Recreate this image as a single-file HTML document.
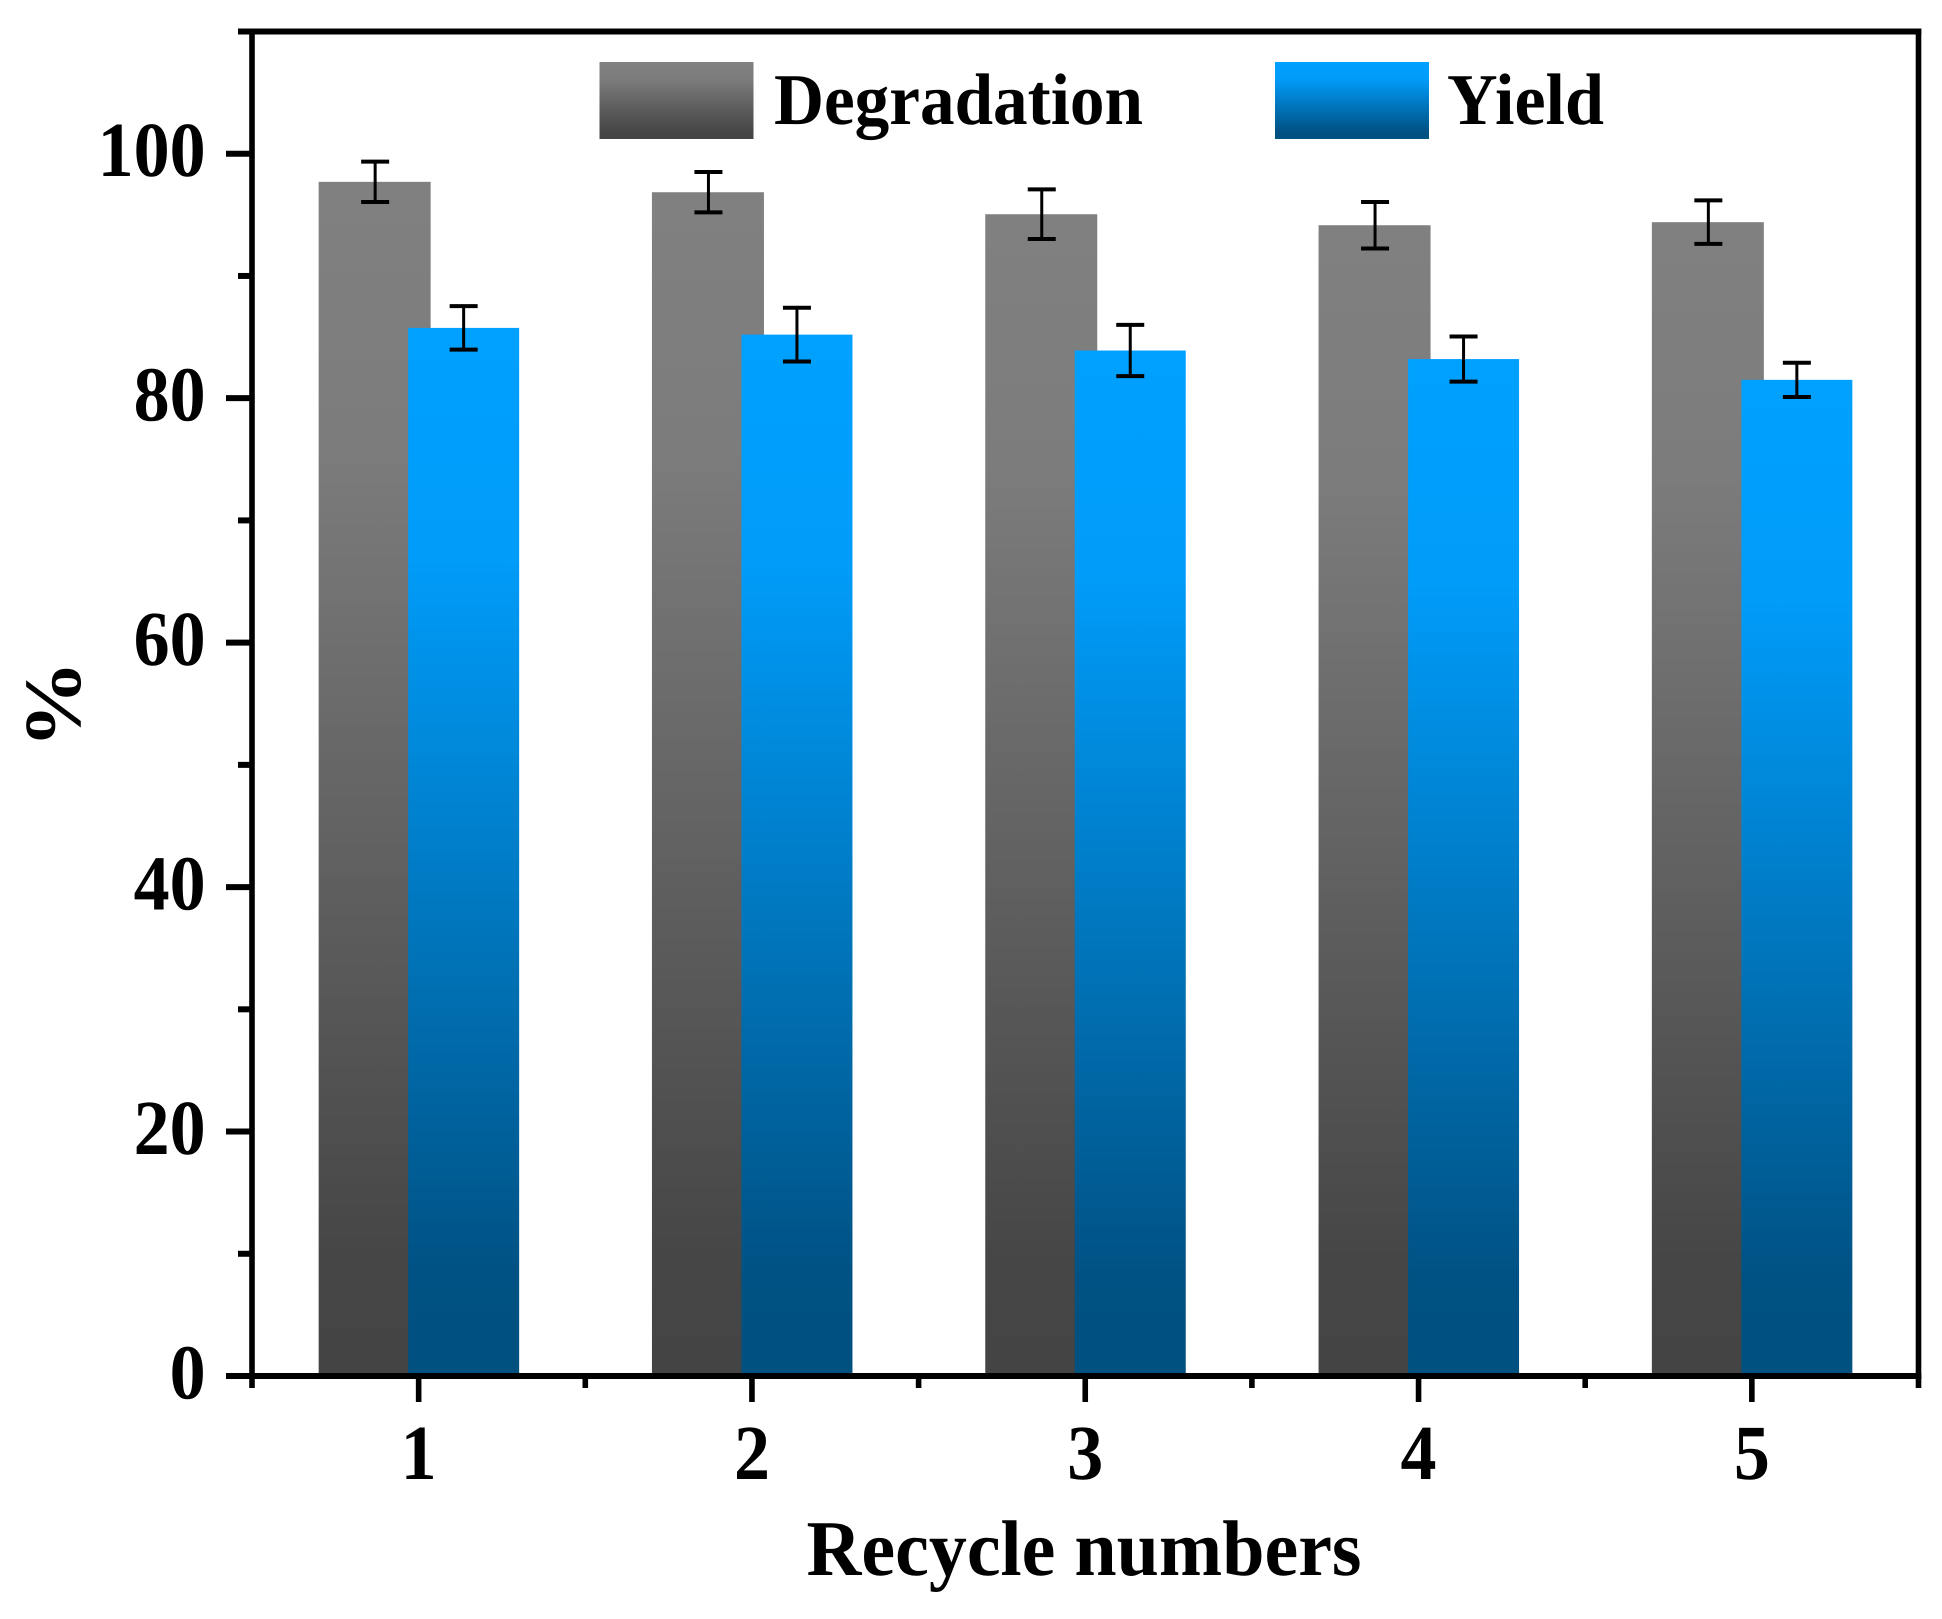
<!DOCTYPE html>
<html lang="en">
<head>
<meta charset="utf-8">
<title>Degradation and yield by recycle number</title>
<style>
html,body{margin:0;padding:0;background:#fff;}
svg{display:block;}
text{font-family:"Liberation Serif",serif;font-weight:bold;fill:#000;text-rendering:geometricPrecision;}
</style>
</head>
<body>
<svg id="chart" xmlns="http://www.w3.org/2000/svg" width="1942" height="1619" viewBox="0 0 1942 1619">
  <defs>
    <linearGradient id="grad-gray" x1="0" y1="0" x2="0" y2="1">
      <stop offset="0" stop-color="#808080"/>
      <stop offset="0.22" stop-color="#7c7c7c"/>
      <stop offset="0.90" stop-color="#464646"/>
      <stop offset="1" stop-color="#444444"/>
    </linearGradient>
    <linearGradient id="grad-blue" x1="0" y1="0" x2="0" y2="1">
      <stop offset="0" stop-color="#00a0ff"/>
      <stop offset="0.22" stop-color="#009cf9"/>
      <stop offset="0.90" stop-color="#005284"/>
      <stop offset="1" stop-color="#005080"/>
    </linearGradient>
  </defs>
  <rect x="0" y="0" width="1942" height="1619" fill="#ffffff"/>
  <g id="bars"></g>
  <g id="errors"></g>
  <g id="axes"></g>
  <g id="labels"></g>

  <g>
    <g>
      <rect x="599.5" y="62" width="154" height="77" fill="url(#grad-gray)"/>
      <text x="774" y="124" font-size="73" textLength="369" lengthAdjust="spacingAndGlyphs">Degradation</text>
    </g>
    <g>
      <rect x="1275" y="62" width="154" height="77" fill="url(#grad-blue)"/>
      <text x="1447" y="124" font-size="73" textLength="157" lengthAdjust="spacingAndGlyphs">Yield</text>
    </g>
  </g>

  <text x="806.5" y="1575" font-size="79" textLength="555" lengthAdjust="spacingAndGlyphs">Recycle numbers</text>
  <text transform="translate(80 704.5) rotate(-90)" text-anchor="middle" font-size="81" textLength="88" lengthAdjust="spacingAndGlyphs">%</text>
</svg>

<script>
const categories = [1, 2, 3, 4, 5];
const degradation = [97.7, 96.85, 95.05, 94.15, 94.4];
const degradationErr = [1.65, 1.65, 2.03, 1.9, 1.78];
const yieldValues = [85.75, 85.2, 83.9, 83.2, 81.5];
const yieldErr = [1.78, 2.2, 2.1, 1.85, 1.4];
const yMajorTicks = [0, 20, 40, 60, 80, 100];
const yMinorTicks = [10, 30, 50, 70, 90, 110];
const xMinorTicks = [0.5, 1.5, 2.5, 3.5, 4.5, 5.5];

const NS = 'http://www.w3.org/2000/svg';
const X_LEFT = 252, X_RIGHT = 1918.5, X_MIN = 0.5, X_MAX = 5.5;
const Y_ZERO = 1376, Y_TOP = 31.5, Y_MAX = 110;

function xScale(v) { return X_LEFT + (v - X_MIN) / (X_MAX - X_MIN) * (X_RIGHT - X_LEFT); }
function yScale(v) { return Y_ZERO - v / Y_MAX * (Y_ZERO - Y_TOP); }

function make(tag, attrs, parent) {
  const el = document.createElementNS(NS, tag);
  for (const k in attrs) el.setAttribute(k, attrs[k]);
  parent.appendChild(el);
  return el;
}

const barsG = document.getElementById('bars');
const errG = document.getElementById('errors');
const axesG = document.getElementById('axes');
const labelsG = document.getElementById('labels');

const CAP_W = 28;

function drawBar(cat, value, fill, offset, width, seriesName) {
  const cx = xScale(cat) + offset;
  const top = yScale(value);
  const r = make('rect', { x: cx - width / 2, y: top, width: width, height: Y_ZERO - top, fill: fill }, barsG);
  
  
}

function drawError(cat, value, err, offset, seriesName) {
  const cx = xScale(cat) + offset;
  const hi = yScale(value + err), lo = yScale(value - err);
  const g = make('g', { stroke: '#000', fill: 'none' }, errG);
  
  
  make('line', { x1: cx, x2: cx, y1: hi, y2: lo, 'stroke-width': 3 }, g);
  make('line', { x1: cx - CAP_W / 2, x2: cx + CAP_W / 2, y1: hi, y2: hi, 'stroke-width': 4 }, g);
  make('line', { x1: cx - CAP_W / 2, x2: cx + CAP_W / 2, y1: lo, y2: lo, 'stroke-width': 4 }, g);
}

const GRAY_OFFSET = -44, BLUE_OFFSET = 45, GRAY_W = 112, BLUE_W = 111;

categories.forEach(function (c, i) {
  drawBar(c, degradation[i], 'url(#grad-gray)', GRAY_OFFSET, GRAY_W, 'degradation');
  drawBar(c, yieldValues[i], 'url(#grad-blue)', BLUE_OFFSET, BLUE_W, 'yield');
});
categories.forEach(function (c, i) {
  drawError(c, degradation[i], degradationErr[i], GRAY_OFFSET + 0.5, 'degradation');
  drawError(c, yieldValues[i], yieldErr[i], BLUE_OFFSET, 'yield');
});

/* frame */
const AXIS_H = 6, AXIS_V = 5.6, MAJOR = 23, MINOR = 9;
const bottomLine = make('line', { x1: 226, x2: X_RIGHT + 2.8, y1: Y_ZERO, y2: Y_ZERO, stroke: '#000', 'stroke-width': AXIS_H }, axesG);


const topLine = make('line', { x1: 238, x2: X_RIGHT + 2.8, y1: Y_TOP, y2: Y_TOP, stroke: '#000', 'stroke-width': AXIS_H }, axesG);


const leftLine = make('line', { x1: X_LEFT, x2: X_LEFT, y1: Y_TOP, y2: Y_ZERO + 3, stroke: '#000', 'stroke-width': AXIS_V }, axesG);


const rightLine = make('line', { x1: X_RIGHT, x2: X_RIGHT, y1: Y_TOP - 3, y2: Y_ZERO + 3, stroke: '#000', 'stroke-width': AXIS_V }, axesG);



const TICK_FONT = 78, DIGIT_W = 36;

/* y ticks */
yMajorTicks.forEach(function (v) {
  const y = yScale(v);
  const t = make('line', { x1: 226, x2: X_LEFT, y1: y, y2: y, stroke: '#000', 'stroke-width': AXIS_H }, axesG);
  
  
  const label = String(v);
  const l = make('text', { x: 205.6, y: y + 22.5, 'text-anchor': 'end', 'font-size': TICK_FONT, textLength: label.length * DIGIT_W, lengthAdjust: 'spacingAndGlyphs' }, labelsG);
  
  
  l.textContent = label;
});
yMinorTicks.forEach(function (v) {
  const y = yScale(v);
  const t = make('line', { x1: 238, x2: X_LEFT, y1: y, y2: y, stroke: '#000', 'stroke-width': AXIS_H }, axesG);
  
  
});

/* x ticks */
categories.forEach(function (c) {
  const x = xScale(c);
  const t = make('line', { x1: x, x2: x, y1: Y_ZERO, y2: Y_ZERO + 3 + MAJOR, stroke: '#000', 'stroke-width': AXIS_V }, axesG);
  
  
  const label = String(c);
  const l = make('text', { x: x, y: 1479, 'text-anchor': 'middle', 'font-size': TICK_FONT, textLength: label.length * DIGIT_W, lengthAdjust: 'spacingAndGlyphs' }, labelsG);
  
  
  l.textContent = label;
});
xMinorTicks.forEach(function (c) {
  const x = xScale(c);
  const t = make('line', { x1: x, x2: x, y1: Y_ZERO, y2: Y_ZERO + 3 + MINOR, stroke: '#000', 'stroke-width': AXIS_V }, axesG);
  
  
});
</script>
</body>
</html>
